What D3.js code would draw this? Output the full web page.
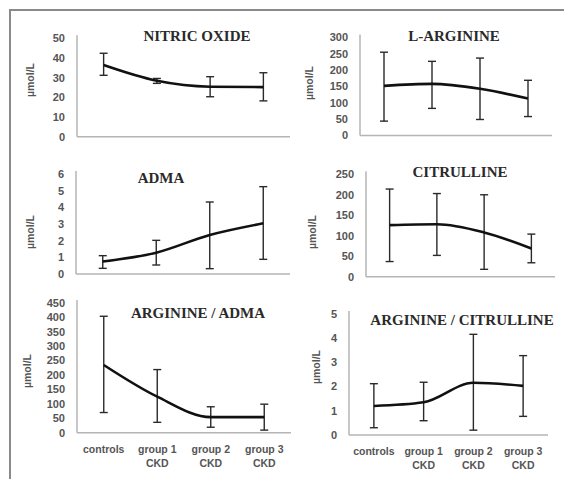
<!DOCTYPE html>
<html>
<head>
<meta charset="utf-8">
<script src="https://cdn.jsdelivr.net/npm/d3@7"></script>
<style>
  body { margin: 0; background: #fff; }
  svg { display: block; }
  .tick-label { font-family: "Liberation Sans", Arial, sans-serif; font-size: 11px; font-weight: bold; fill: #555; }
  .cat-label { font-family: "Liberation Sans", Arial, sans-serif; font-size: 10.5px; font-weight: bold; fill: #555; }
  .unit { font-family: "Liberation Sans", Arial, sans-serif; font-size: 10.5px; font-weight: bold; fill: #555; }
  .title { font-family: "Liberation Serif", "Times New Roman", serif; font-size: 15px; font-weight: bold; fill: #2a2a2a; }
</style>
</head>
<body>
<div class="chart"></div>
<script>
// categories (two-line labels)
var categories = [["controls"], ["group 1", "CKD"], ["group 2", "CKD"], ["group 3", "CKD"]];

// values: mean, upper and lower whisker
var noMean = [36.4, 28.4, 25.4, 25.2];
var noHi   = [42.4, 29.6, 30.5, 32.5];
var noLo   = [31.2, 27.1, 20.3, 18.2];

var argMean = [152, 158, 143, 113];
var argHi   = [255, 227, 237, 169];
var argLo   = [44, 83, 49, 58];

var admaMean = [0.75, 1.28, 2.34, 3.04];
var admaHi   = [1.1, 2.02, 4.32, 5.24];
var admaLo   = [0.34, 0.54, 0.32, 0.88];

var citMean = [126, 128, 108, 69];
var citHi   = [214, 203, 200, 104];
var citLo   = [37, 52, 18, 34];

var argAdmaMean = [235, 125, 54, 54];
var argAdmaHi   = [404, 219, 90, 99];
var argAdmaLo   = [70, 36, 19, 9];

var argCitMean = [1.2, 1.35, 2.16, 2.03];
var argCitHi   = [2.12, 2.18, 4.16, 3.28];
var argCitLo   = [0.3, 0.59, 0.2, 0.77];

var titles = ["NITRIC OXIDE", "L-ARGININE", "ADMA", "CITRULLINE", "ARGININE / ADMA", "ARGININE / CITRULLINE"];
var yMax   = [50, 300, 6, 250, 450, 5];
var yStep  = [10, 50, 1, 50, 50, 1];

// panel placement (pixels)
var panels = [
  {x0: 77,  x1: 290, yT: 38.3,  yB: 136.7, tx: 197, ty: 41,  ux: 31,  uy: 80,  cats: false, mean: noMean, hi: noHi, lo: noLo},
  {x0: 360, x1: 552, yT: 37.5,  yB: 135.5, tx: 454, ty: 41,  ux: 310, uy: 83,  cats: false, mean: argMean, hi: argHi, lo: argLo},
  {x0: 76,  x1: 290, yT: 174,   yB: 274,   tx: 161, ty: 183, ux: 31,  uy: 232, cats: false, mean: admaMean, hi: admaHi, lo: admaLo},
  {x0: 366, x1: 555, yT: 174.3, yB: 276.7, tx: 460, ty: 177, ux: 313, uy: 232, cats: false, mean: citMean, hi: citHi, lo: citLo},
  {x0: 77,  x1: 291, yT: 303,   yB: 432.7, tx: 198, ty: 318, ux: 28,  uy: 371, cats: true,  mean: argAdmaMean, hi: argAdmaHi, lo: argAdmaLo},
  {x0: 349, x1: 548, yT: 314,   yB: 435,   tx: 462, ty: 325, ux: 317, uy: 367, cats: true,  mean: argCitMean, hi: argCitHi, lo: argCitLo}
];

var W = 564, H = 479;

var svg = d3.select(".chart").append("svg")
            .attr("width", W)
            .attr("height", H);

svg.append("rect").attr("width", W).attr("height", H).attr("fill", "#fff");

// outer frame (left and top edges only visible)
svg.append("path")
   .attr("d", "M10," + H + "L10,10L" + W + ",10")
   .attr("fill", "none")
   .attr("stroke", "#8a8a8a")
   .attr("stroke-width", 2);

panels.forEach(function(p, k) {
    var idx = d3.range(categories.length);

    var x = d3.scaleBand()
              .domain(idx)
              .range([p.x0, p.x1]);

    var y = d3.scaleLinear()
              .domain([0, yMax[k]])
              .range([p.yB, p.yT]);

    var g = svg.append("g");

    // y tick labels
    var ticks = d3.range(0, yMax[k] + yStep[k] / 2, yStep[k]);
    g.selectAll(".tick-label")
     .data(ticks)
     .enter()
     .append("text")
     .attr("class", "tick-label")
     .attr("x", p.x0 - 12)
     .attr("y", function(d) { return y(d); })
     .attr("dy", "0.35em")
     .attr("text-anchor", "end")
     .text(function(d) { return d; });

    // axes lines
    g.append("line")
     .attr("x1", p.x0).attr("x2", p.x0)
     .attr("y1", p.yT - 3).attr("y2", p.yB)
     .attr("stroke", "#b5b5b5").attr("stroke-width", 1.5);
    g.append("line")
     .attr("x1", p.x0).attr("x2", p.x1)
     .attr("y1", p.yB).attr("y2", p.yB)
     .attr("stroke", "#b5b5b5").attr("stroke-width", 1.5);

    // error bars
    var cx = function(i) { return x(i) + x.bandwidth() / 2; };
    var eb = g.selectAll(".err")
              .data(idx)
              .enter()
              .append("g")
              .attr("class", "err")
              .attr("stroke", "#2a2a2a")
              .attr("stroke-width", 1.4);
    eb.append("line")
      .attr("x1", cx).attr("x2", cx)
      .attr("y1", function(i) { return y(p.hi[i]); })
      .attr("y2", function(i) { return y(p.lo[i]); });
    eb.append("line")
      .attr("x1", function(i) { return cx(i) - 4; })
      .attr("x2", function(i) { return cx(i) + 4; })
      .attr("y1", function(i) { return y(p.hi[i]); })
      .attr("y2", function(i) { return y(p.hi[i]); });
    eb.append("line")
      .attr("x1", function(i) { return cx(i) - 4; })
      .attr("x2", function(i) { return cx(i) + 4; })
      .attr("y1", function(i) { return y(p.lo[i]); })
      .attr("y2", function(i) { return y(p.lo[i]); });

    // mean line
    var line = d3.line()
                 .x(function(i) { return cx(i); })
                 .y(function(i) { return y(p.mean[i]); })
                 .curve(d3.curveMonotoneX);
    g.append("path")
     .datum(idx)
     .attr("d", line)
     .attr("fill", "none")
     .attr("stroke", "#111")
     .attr("stroke-width", 2.6);

    // title
    g.append("text")
     .attr("class", "title")
     .attr("x", p.tx)
     .attr("y", p.ty)
     .attr("text-anchor", "middle")
     .text(titles[k]);

    // unit label
    g.append("text")
     .attr("class", "unit")
     .attr("transform", "translate(" + (p.ux + 3) + "," + p.uy + ") rotate(-90)")
     .attr("text-anchor", "middle")
     .text("µmol/L");

    // category labels
    if (p.cats) {
        var cl = g.selectAll(".cat-label")
                  .data(idx)
                  .enter()
                  .append("text")
                  .attr("class", "cat-label")
                  .attr("text-anchor", "middle");
        cl.selectAll("tspan")
          .data(function(i) { return categories[i].map(function(s) { return {s: s, i: i}; }); })
          .enter()
          .append("tspan")
          .attr("x", function(d) { return cx(d.i); })
          .attr("y", function(d, j) { return p.yB + 20 + j * 14; })
          .text(function(d) { return d.s; });
    }
});
</script>
</body>
</html>
